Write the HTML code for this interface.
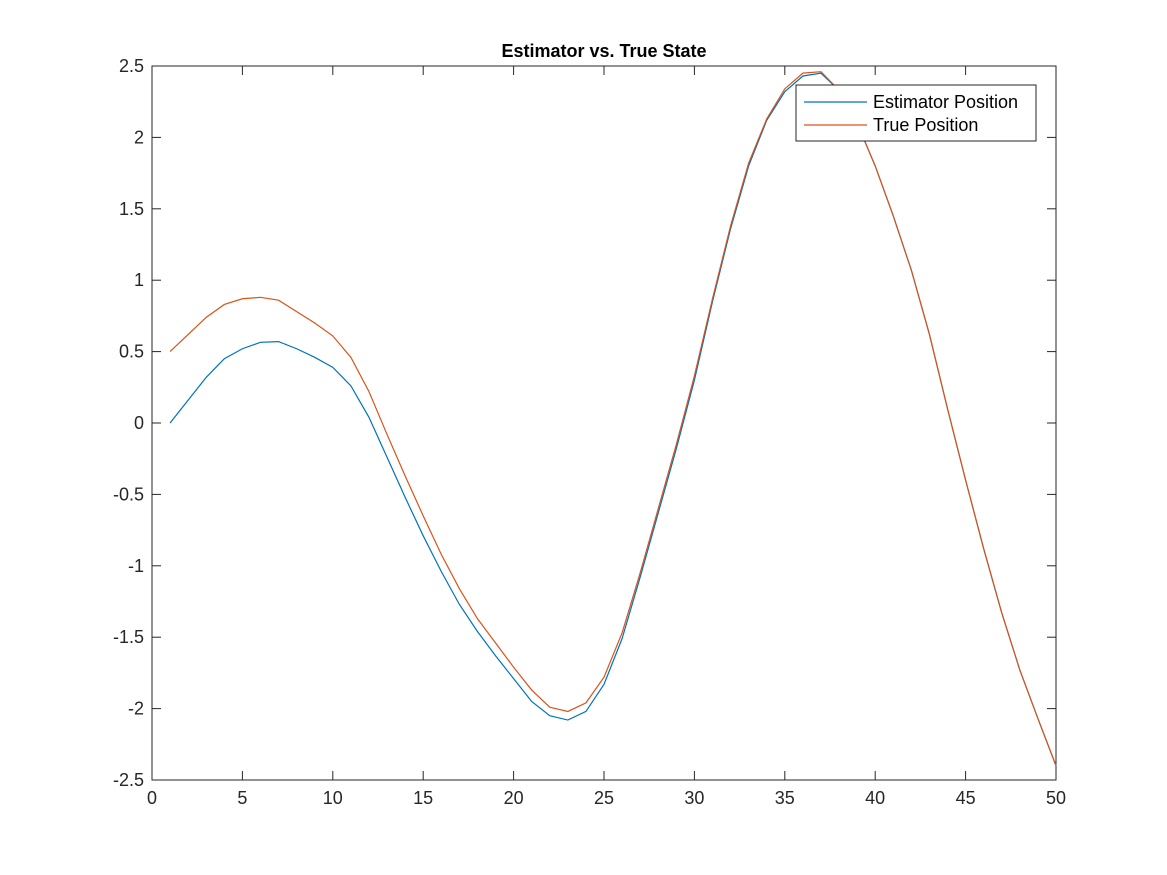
<!DOCTYPE html>
<html><head><meta charset="utf-8"><style>
html,body{margin:0;padding:0;background:#fff;}
svg{display:block;font-family:"Liberation Sans",Arial,sans-serif;}
</style></head><body>
<svg id="chart" width="1167" height="875">
<rect x="0" y="0" width="1167" height="875" fill="#fff"/>
<g id="plot"></g>
</svg>
<script>
const xValues=[];for(let i=1;i<=50;i++)xValues.push(i);
const estimator=[0,0.16,0.32,0.45,0.52,0.565,0.57,0.52,0.46,0.39,0.26,0.04,-0.24,-0.52,-0.79,-1.04,-1.27,-1.46,-1.63,-1.79,-1.95,-2.05,-2.08,-2.02,-1.83,-1.51,-1.08,-0.63,-0.18,0.3,0.85,1.36,1.8,2.12,2.32,2.43,2.45,2.33,2.1,1.8,1.45,1.07,0.62,0.1,-0.4,-0.88,-1.33,-1.73,-2.07,-2.4];
const truePos=[0.5,0.62,0.74,0.83,0.87,0.88,0.86,0.78,0.7,0.61,0.46,0.22,-0.08,-0.37,-0.65,-0.92,-1.16,-1.37,-1.54,-1.71,-1.87,-1.99,-2.02,-1.96,-1.78,-1.47,-1.05,-0.6,-0.15,0.33,0.87,1.38,1.82,2.13,2.34,2.45,2.46,2.33,2.1,1.8,1.45,1.07,0.62,0.1,-0.4,-0.88,-1.33,-1.73,-2.07,-2.4];
const xTicks=[0,5,10,15,20,25,30,35,40,45,50];
const yTicks=[-2.5,-2,-1.5,-1,-0.5,0,0.5,1,1.5,2,2.5];
const yTickLabels=["-2.5","-2","-1.5","-1","-0.5","0","0.5","1","1.5","2","2.5"];

const L=152,R=1056,T=66,B=780;
const sx=v=>L+(v-0)/(50-0)*(R-L);
const sy=v=>B-(v+2.5)/5*(B-T);
const g=document.getElementById('plot');
const NS='http://www.w3.org/2000/svg';
function mk(tag,attrs,parent){const e=document.createElementNS(NS,tag);for(const k in attrs)e.setAttribute(k,attrs[k]);(parent||g).appendChild(e);return e;}

const axes=mk('rect',{x:L,y:T,width:R-L,height:B-T,fill:'#fff',stroke:'#262626','stroke-width':1});



xTicks.forEach((t,i)=>{
  const x=sx(t);
  mk('line',{x1:x,x2:x,y1:B,y2:B-9,stroke:'#262626'});
  mk('line',{x1:x,x2:x,y1:T,y2:T+9,stroke:'#262626'});
  const tx=mk('text',{x:x,y:B+24,'text-anchor':'middle','font-size':18,fill:'#262626'});
  tx.textContent=t;
  
  
});
yTicks.forEach((t,i)=>{
  const y=sy(t);
  mk('line',{x1:L,x2:L+9,y1:y,y2:y,stroke:'#262626'});
  mk('line',{x1:R,x2:R-9,y1:y,y2:y,stroke:'#262626'});
  const tx=mk('text',{x:L-8,y:y+6,'text-anchor':'end','font-size':18,fill:'#262626'});
  tx.textContent=yTickLabels[i];
  
  
});

function line(data,color,name){
  const p=mk('polyline',{points:data.map((v,i)=>sx(xValues[i])+','+sy(v)).join(' '),fill:'none',stroke:color,'stroke-width':1.2});
  
  
}
line(estimator,'#0072BD','estimator-position-line');
line(truePos,'#D95319','true-position-line');

const title=mk('text',{x:(L+R)/2,y:57,'text-anchor':'middle','font-size':18,'font-weight':'bold',fill:'#000'});
title.textContent='Estimator vs. True State';



const lg=mk('g',{});


mk('rect',{x:796,y:85,width:240,height:56,fill:'#fff',stroke:'#262626'},lg);
const e1=mk('g',{},lg);


mk('line',{x1:804,x2:867,y1:102,y2:102,stroke:'#0072BD','stroke-width':1.2},e1);
const t1=mk('text',{x:873,y:108,'font-size':18,fill:'#000'},e1);t1.textContent='Estimator Position';
const e2=mk('g',{},lg);


mk('line',{x1:804,x2:867,y1:125,y2:125,stroke:'#D95319','stroke-width':1.2},e2);
const t2=mk('text',{x:873,y:131,'font-size':18,fill:'#000'},e2);t2.textContent='True Position';
</script>
</body></html>
